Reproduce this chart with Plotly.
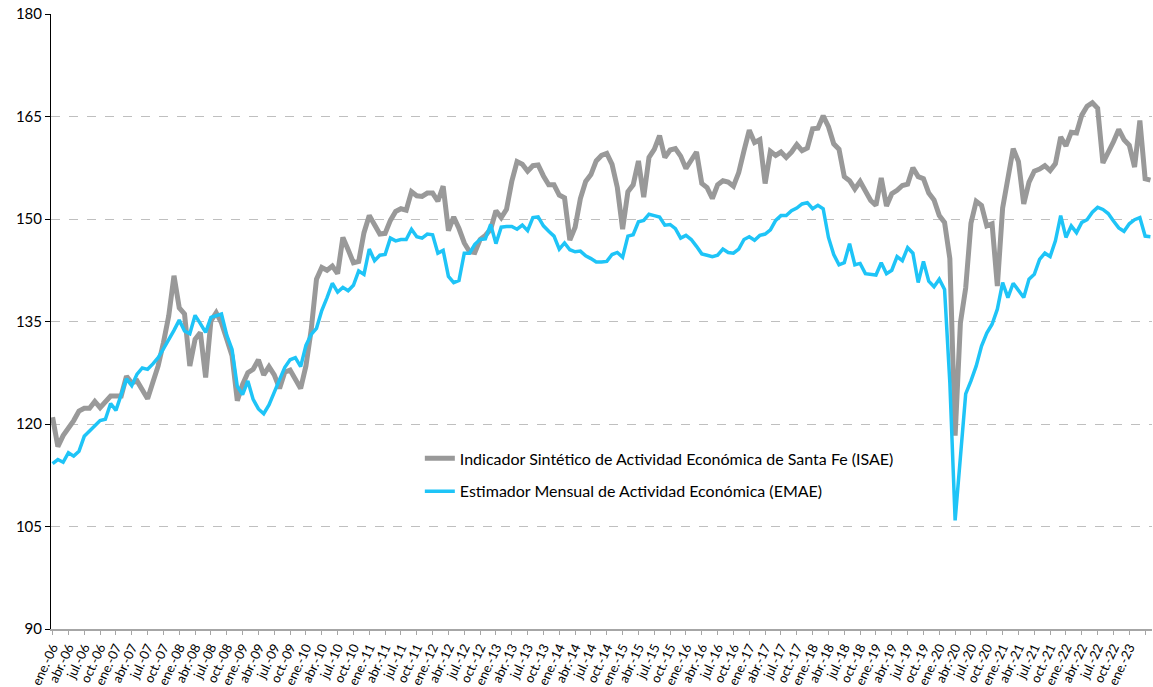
import plotly.graph_objects as go

months = ["ene.", "feb.", "mar.", "abr.", "may.", "jun.", "jul.", "ago.", "sep.", "oct.", "nov.", "dic."]
periods = [f"{m}-{y:02d}" for y in range(6, 24) for m in months][:209]

isae = [
    121.0, 116.7, 118.3, 119.3, 120.5, 121.9, 122.3, 122.3, 123.3, 122.4, 123.2, 124.1,
    124.1, 124.1, 127.0, 126.0, 126.3, 125.0, 123.7, 126.1, 128.5, 131.9, 135.8, 141.7,
    137.0, 136.1, 128.5, 132.4, 133.4, 126.8, 135.1, 136.3, 134.8, 132.4, 130.0, 123.4,
    125.8, 127.5, 128.0, 129.4, 127.2, 128.4, 127.2, 125.2, 127.6, 127.9, 126.5, 125.2,
    128.5, 133.8, 141.2, 142.9, 142.5, 143.1, 142.0, 147.3, 145.5, 143.6, 143.8, 148.0,
    150.5, 149.3, 147.8, 147.9, 149.8, 151.1, 151.5, 151.3, 154.0, 153.4, 153.3, 153.8,
    153.8, 152.6, 154.8, 148.3, 150.3, 148.6, 146.5, 145.2, 145.1, 147.0, 147.6, 148.5,
    151.2, 150.2, 151.4, 155.5, 158.4, 158.0, 157.0, 157.8, 157.9, 156.3, 155.0, 155.0,
    153.5, 153.1, 146.9, 148.8, 153.0, 155.5, 156.5, 158.5, 159.3, 159.6, 158.0, 154.6,
    148.5, 154.0, 155.0, 158.5, 153.2, 159.0, 160.2, 162.2, 159.0, 160.1, 160.3, 159.2,
    157.4, 158.6, 159.8, 155.2, 154.6, 153.0, 155.0, 155.6, 155.4, 154.8, 156.8, 160.0,
    163.0, 161.2, 161.6, 155.2, 159.9, 159.3, 159.8, 159.0, 159.8, 160.9, 160.0, 160.4,
    163.2, 163.3, 165.1, 163.5, 161.0, 160.2, 156.2, 155.6, 154.4, 155.5, 154.2, 152.7,
    152.0, 156.0, 151.9, 153.7, 154.2, 154.9, 155.1, 157.5, 156.2, 155.9, 153.8, 152.8,
    150.5, 149.5, 144.2, 118.3, 134.8, 139.9, 149.4, 152.6, 152.0, 149.0, 149.3, 140.2,
    151.6, 155.5, 160.3, 158.4, 152.2, 155.4, 157.0, 157.3, 157.8, 157.1, 158.1, 162.0,
    160.7, 162.7, 162.6, 165.2, 166.5, 167.0, 166.2, 158.2, 159.6, 161.3, 163.1, 161.6,
    160.8, 157.6, 164.4, 155.9, 155.7,
]

emae = [
    114.2, 114.8, 114.4, 115.8, 115.3, 116.0, 118.2, 119.0, 119.8, 120.5, 120.7, 123.0,
    122.0, 124.5, 126.6, 125.6, 127.3, 128.2, 128.0, 128.8, 129.7, 131.0, 132.3, 133.7,
    135.2, 133.6, 133.2, 135.9, 134.7, 133.4, 135.6, 135.8, 136.1, 133.0, 130.9, 125.5,
    124.3, 126.3, 123.6, 122.2, 121.5, 122.8, 124.8, 126.5, 128.3, 129.4, 129.7, 128.4,
    131.5, 133.1, 134.0, 136.6, 138.5, 140.6, 139.3, 140.0, 139.5, 140.3, 142.4, 141.9,
    145.6, 143.9, 144.7, 144.8, 147.2, 146.8, 147.0, 147.0, 148.5, 147.4, 147.2, 147.8,
    147.7, 145.0, 145.4, 141.6, 140.7, 141.0, 145.0, 145.0, 146.3, 147.0, 147.1, 149.2,
    146.4, 148.8, 148.9, 148.9, 148.5, 149.1, 148.3, 150.2, 150.3, 149.0, 148.2, 147.5,
    145.6, 146.5, 145.5, 145.2, 145.3, 144.6, 144.2, 143.7, 143.7, 143.8, 144.8, 145.1,
    144.4, 147.5, 147.7, 149.6, 149.8, 150.7, 150.5, 150.3, 149.1, 149.2, 148.6, 147.2,
    147.6, 147.0, 146.0, 144.9, 144.7, 144.5, 144.7, 145.6, 145.1, 145.0, 145.6, 147.0,
    147.4, 146.9, 147.6, 147.8, 148.4, 149.8, 150.5, 150.5, 151.2, 151.6, 152.2, 152.4,
    151.5, 152.0, 151.5, 147.3, 144.8, 143.3, 143.6, 146.4, 143.3, 143.5, 142.0, 141.9,
    141.8, 143.6, 142.0, 142.5, 144.5, 143.9, 145.8, 145.0, 140.7, 143.8, 140.9, 140.1,
    141.2, 139.7, 126.0, 105.9, 114.9, 124.4, 126.3, 128.5, 131.4, 133.3, 134.6, 136.8,
    140.7, 138.5, 140.6, 139.5, 138.5, 141.2, 141.9, 144.1, 145.0, 144.5, 146.8, 150.5,
    147.3, 149.0, 148.0, 149.5, 149.9, 151.0, 151.7, 151.4, 150.8, 149.7, 148.7, 148.2,
    149.3, 149.9, 150.2, 147.5, 147.4,
]

series_names = [
    "Indicador Sintético de Actividad Económica de Santa Fe (ISAE)",
    "Estimador Mensual de Actividad Económica (EMAE)",
]
y_ticks = [90, 105, 120, 135, 150, 165, 180]

idx = list(range(len(periods)))
tick_idx = idx[::3]
tick_txt = [periods[i] for i in tick_idx]

fig = go.Figure()
fig.add_trace(go.Scatter(
    x=idx, y=isae, mode="lines", name=series_names[0], legendgroup="a",
    line=dict(color="#999999", width=5), customdata=periods,
    hovertemplate="%{customdata}: %{y}<extra></extra>",
))
fig.add_trace(go.Scatter(
    x=idx, y=emae, mode="lines", name=series_names[1], legendgroup="b",
    line=dict(color="#1EC4F7", width=3.5), customdata=periods,
    hovertemplate="%{customdata}: %{y}<extra></extra>",
))

fig.update_layout(
    width=1153, height=687,
    margin=dict(l=51, r=1, t=14, b=58, autoexpand=False),
    paper_bgcolor="white", plot_bgcolor="white",
    font=dict(family="Lato, Open Sans, sans-serif", color="#000000"),
    showlegend=True,
    legend=dict(
        x=0.335, y=0.305, xanchor="left", yanchor="top",
        bgcolor="rgba(0,0,0,0)", font=dict(size=16, color="#000000"),
        tracegroupgap=9,
    ),
    xaxis=dict(
        range=[-0.3, 208.3], tickmode="array", tickvals=tick_idx, ticktext=tick_txt,
        tickangle=-65, tickfont=dict(size=13, color="#000000"),
        ticks="outside", ticklen=4, tickcolor="#A6A6A6", automargin=False,
        showline=True, linecolor="#A6A6A6", linewidth=1.5,
        showgrid=False, zeroline=False,
    ),
    yaxis=dict(
        range=[90, 180], tickvals=y_ticks, automargin=False,
        tickfont=dict(size=15, color="#000000"),
        ticks="outside", ticklen=5, tickcolor="#000000",
        showline=True, linecolor="#000000", linewidth=1,
        showgrid=True, gridcolor="#BFBFBF", griddash="dash", gridwidth=1,
        zeroline=False,
    ),
)

fig.write_html(
    "out.html",
    config={"displayModeBar": False},
    post_script="document.body.style.margin='0';document.body.style.overflow='hidden';",
)
